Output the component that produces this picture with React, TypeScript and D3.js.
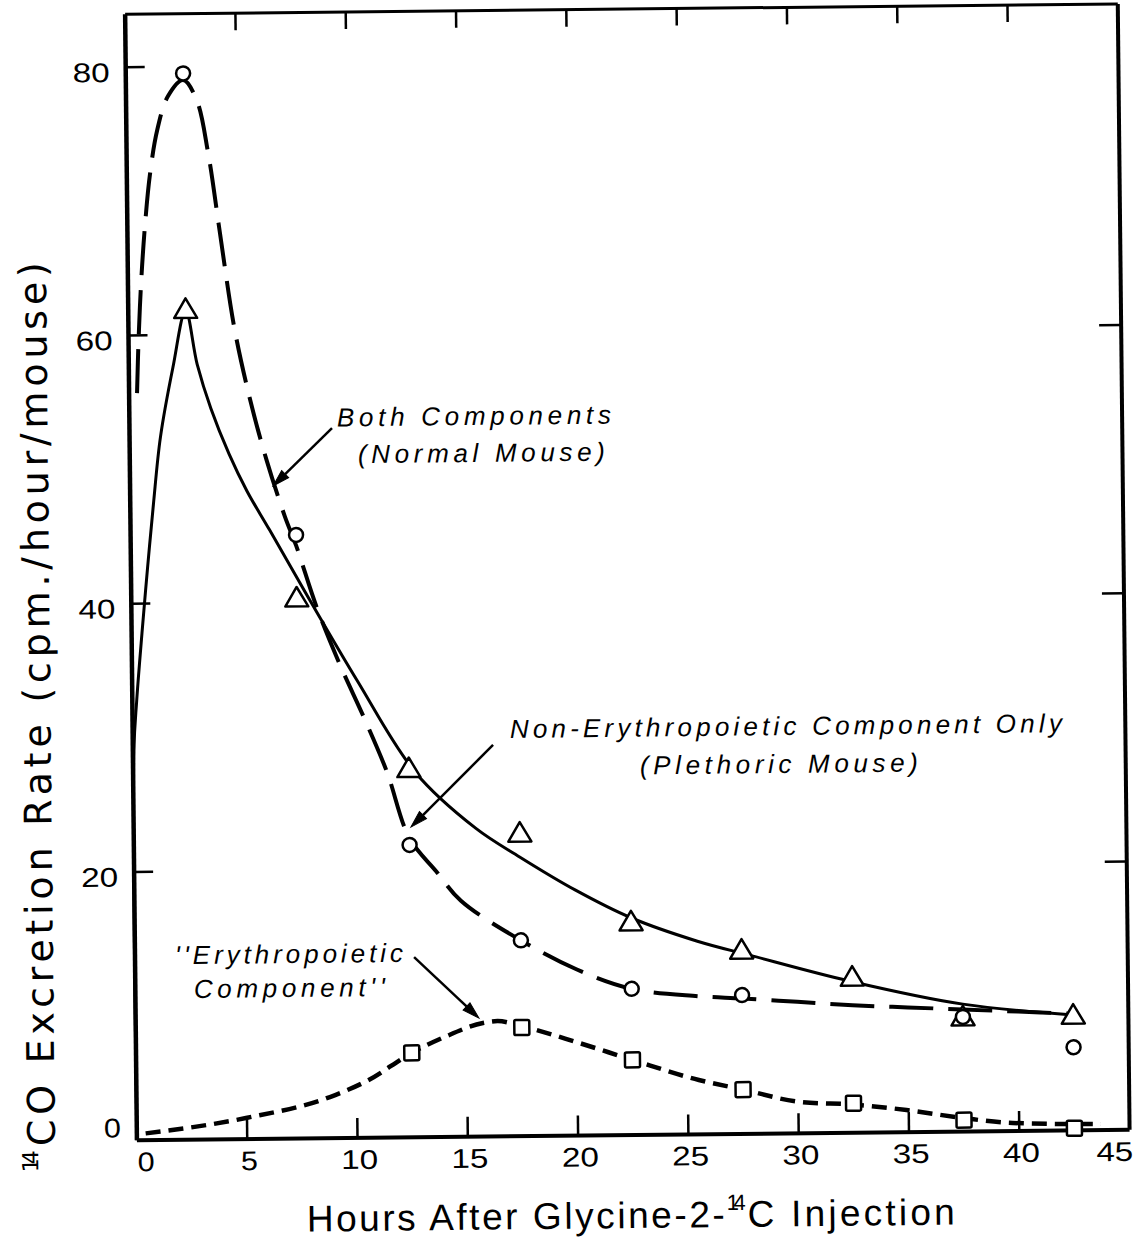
import React from 'react';
import * as d3 from 'd3';

// ---- Axis ticks ----
const xTickValues = [0, 5, 10, 15, 20, 25, 30, 35, 40, 45];
const xTickMarks = [5, 10, 15, 20, 25, 30, 35, 40];
const yTickValues = [0, 20, 40, 60, 80];
const yTickMarksLeft = [20, 40, 60, 80];
const yTickMarksRight = [20, 40, 60];

// ---- Observed points ----
// Both components (normal mouse) - circles
const normalHours = [2.6, 7.5, 12.5, 17.5, 22.5, 27.5, 37.5, 42.5];
const normalRate = [79.5, 45.0, 21.8, 14.6, 10.9, 10.35, 8.55, 6.2];
// Non-erythropoietic only (plethoric mouse) - triangles
const plethoricHours = [2.6, 7.5, 12.5, 17.5, 22.5, 27.5, 32.5, 37.5, 42.5];
const plethoricRate = [61.9, 40.3, 27.5, 22.6, 15.9, 13.7, 11.6, 8.55, 8.6];
// "Erythropoietic component" - squares
const erythroHours = [12.5, 17.5, 22.5, 27.5, 32.5, 37.5, 42.5];
const erythroRate = [6.3, 8.1, 5.6, 3.3, 2.2, 0.85, 0.16];

// ---- Hand-drawn fitted curves ----
const normalFitHours = [0.36, 0.45, 0.6, 0.8, 1.05, 1.4, 1.9, 2.6, 3.2, 3.7, 4.2, 4.8, 5.5, 6.2, 7.0, 7.5, 8.4, 9.4, 10.5, 11.5, 12.5, 13.7, 14.8, 17.5, 20, 22.5, 25.5, 27.5, 30, 32.5, 35, 37.5, 40, 42.5];
const normalFitRate = [55.7, 59.5, 64.0, 68.2, 72.0, 75.3, 77.8, 79.0, 77.5, 73.5, 67.5, 60.5, 55.0, 50.6, 46.4, 44.2, 39.6, 35.4, 31.3, 27.3, 22.3, 19.8, 17.6, 14.6, 12.4, 10.9, 10.3, 10.1, 9.8, 9.5, 9.3, 9.1, 8.9, 8.7];

const plethoricFitHours = [0, 0.05, 0.2, 0.47, 0.75, 1.05, 1.4, 2.0, 2.6, 3.1, 3.7, 4.5, 5.3, 6.3, 8.0, 10.2, 12.8, 15.5, 17.5, 20, 22.5, 25.5, 27.9, 32.4, 37.5, 42.5];
const plethoricFitRate = [0, 29.1, 32.8, 37.8, 42.6, 47.4, 52.4, 57.6, 61.8, 57.8, 54.5, 51.1, 48.3, 45.4, 40.4, 34.1, 27.2, 23.0, 20.8, 18.3, 16.2, 14.4, 13.3, 11.3, 9.5, 8.6];

const erythroFitHours = [0.4, 4.95, 8.77, 10.5, 12.5, 14.0, 15.74, 16.4, 17.5, 20.1, 22.5, 25.5, 27.5, 30.1, 32.5, 34.9, 37.5, 39.7, 43.7];
const erythroFitRate = [0.5, 1.57, 3.07, 4.28, 6.3, 7.46, 8.47, 8.6, 8.2, 6.9, 5.6, 4.05, 3.3, 2.33, 2.1, 1.65, 1.0, 0.6, 0.45];

// ---- Annotations (data coordinates) ----
const annotationLines = [
  { text: 'Both Components', hx: 15.62, hy: 53.06, width: 274 },
  { text: '(Normal Mouse)', hx: 15.94, hy: 50.3, width: 247 },
  { text: 'Non-Erythropoietic Component Only', hx: 29.61, hy: 29.7, width: 552 },
  { text: '(Plethoric  Mouse)', hx: 29.28, hy: 26.88, width: 278 },
  { text: "''Erythropoietic", hx: 6.98, hy: 13.09, width: 228 },
  { text: "Component''", hx: 6.98, hy: 10.56, width: 191 },
];
const arrowTailHours = [9.18, 16.33, 12.65];
const arrowTailRate = [52.94, 29.19, 13.44];
const arrowHeadHours = [6.48, 12.57, 15.56];
const arrowHeadRate = [48.67, 23.13, 8.84];

const FONT = "'Liberation Sans', Arial, Helvetica, sans-serif";
const WIDE_FONT = "'DejaVu Sans', Verdana, sans-serif";

export default function App() {
  const W = 1148;
  const H = 1242;
  const x = d3.scaleLinear().domain([0, 45]).range([131, 1123.7]);
  const y = d3.scaleLinear().domain([0, 80]).range([1135, 62]);
  const yTop = 83.95;

  const zip = (a: number[], b: number[]): [number, number][] => a.map((v, i) => [v, b[i]]);
  const smoothLine = d3
    .line<[number, number]>()
    .x((d) => x(d[0]))
    .y((d) => y(d[1]))
    .curve(d3.curveCatmullRom.alpha(0.5));
  const monoLine = d3
    .line<[number, number]>()
    .x((d) => x(d[0]))
    .y((d) => y(d[1]))
    .curve(d3.curveMonotoneX);

  const left = x(0);
  const right = x(45);
  const top = y(yTop);
  const bottom = y(0);

  const tri = 'M0,-11 L11.5,8.5 L-11.5,8.5 Z';

  const arrows = arrowTailHours.map((_, i) => {
    const tx = x(arrowTailHours[i]);
    const ty = y(arrowTailRate[i]);
    const hx = x(arrowHeadHours[i]);
    const hy = y(arrowHeadRate[i]);
    const len = Math.hypot(hx - tx, hy - ty);
    const ux = (hx - tx) / len;
    const uy = (hy - ty) / len;
    const bx = hx - ux * 17;
    const by = hy - uy * 17;
    const nx = -uy;
    const ny = ux;
    return {
      tx, ty, bx, by,
      head: `M${hx},${hy} L${bx + nx * 5},${by + ny * 5} L${bx - nx * 5},${by - ny * 5} Z`,
    };
  });

  const xLabelOffset = (v: number) => (v === 0 ? 9 : v === 45 ? -15 : 2);

  return (
    <svg
      width={W}
      height={H}
      style={{ position: 'absolute', left: 0, top: 0, background: '#fff' }}
    >
      <rect x={0} y={0} width={W} height={H} fill="#fff" />
      <g transform="rotate(-0.6 632 572)">
        {/* Frame */}
        <line x1={left} y1={top} x2={left} y2={bottom} stroke="#000" strokeWidth={4.5} />
        <line x1={left} y1={bottom} x2={right} y2={bottom} stroke="#000" strokeWidth={4} />
        <line x1={left} y1={top} x2={right} y2={top} stroke="#000" strokeWidth={3} />
        <line x1={right} y1={top} x2={right} y2={bottom} stroke="#000" strokeWidth={4} />

        {/* Tick marks */}
        {xTickMarks.map((v) => (
          <g key={'xt' + v}>
            <line x1={x(v)} x2={x(v)} y1={bottom} y2={bottom - 20} stroke="#000" strokeWidth={2.5} />
            <line x1={x(v)} x2={x(v)} y1={top} y2={top + 17} stroke="#000" strokeWidth={2.5} />
          </g>
        ))}
        {yTickMarksLeft.map((v) => (
          <line key={'yl' + v} x1={left} x2={left + 19} y1={y(v)} y2={y(v)} stroke="#000" strokeWidth={2.5} />
        ))}
        {yTickMarksRight.map((v) => (
          <line key={'yr' + v} x1={right} x2={right - 22} y1={y(v)} y2={y(v)} stroke="#000" strokeWidth={2.5} />
        ))}

        {/* Tick labels */}
        {xTickValues.map((v) => (
          <text
            key={'xl' + v}
            x={x(v) + xLabelOffset(v)}
            y={bottom + 31}
            textAnchor="middle"
            fontFamily={FONT}
            fontSize={27}
            textLength={String(v).length > 1 ? 37 : 17}
            lengthAdjust="spacingAndGlyphs"
          >
            {v}
          </text>
        ))}
        {yTickValues.map((v) => (
          <text
            key={'yl' + v}
            x={115}
            y={v === 0 ? y(v) - 3 : y(v) + 14.5}
            textAnchor="end"
            fontFamily={FONT}
            fontSize={27}
            textLength={String(v).length > 1 ? 37 : 17}
            lengthAdjust="spacingAndGlyphs"
          >
            {v}
          </text>
        ))}

        {/* Curves */}
        <path
          d={smoothLine(zip(plethoricFitHours, plethoricFitRate)) || ''}
          fill="none"
          stroke="#000"
          strokeWidth={3}
        />
        <path
          d={smoothLine(zip(normalFitHours, normalFitRate)) || ''}
          fill="none"
          stroke="#000"
          strokeWidth={4}
          strokeDasharray="44 15"
        />
        <path
          d={monoLine(zip(erythroFitHours, erythroFitRate)) || ''}
          fill="none"
          stroke="#000"
          strokeWidth={4.5}
          strokeDasharray="15 8"
        />

        {/* Markers */}
        {plethoricHours.map((h, i) => (
          <path
            key={'tri' + i}
            d={tri}
            transform={`translate(${x(h)},${y(plethoricRate[i])})`}
            fill="#fff"
            stroke="#000"
            strokeWidth={2.5}
            strokeLinejoin="round"
          />
        ))}
        {normalHours.map((h, i) => (
          <circle key={'c' + i} cx={x(h)} cy={y(normalRate[i])} r={7} fill="#fff" stroke="#000" strokeWidth={2.5} />
        ))}
        {erythroHours.map((h, i) => (
          <rect
            key={'s' + i}
            x={x(h) - 7.5}
            y={y(erythroRate[i]) - 7.5}
            width={15}
            height={15}
            rx={1.5}
            fill="#fff"
            stroke="#000"
            strokeWidth={2.5}
          />
        ))}

        {/* Annotations */}
        {annotationLines.map((a, i) => (
          <text
            key={'an' + i}
            x={x(a.hx)}
            y={y(a.hy)}
            textAnchor="middle"
            fontFamily={FONT}
            fontStyle="italic"
            fontSize={26}
            textLength={a.width}
            lengthAdjust="spacing"
          >
            {a.text}
          </text>
        ))}
        {arrows.map((a, i) => (
          <g key={'ar' + i}>
            <line x1={a.tx} y1={a.ty} x2={a.bx} y2={a.by} stroke="#000" strokeWidth={2.5} />
            <path d={a.head} fill="#000" stroke="#000" strokeWidth={1} />
          </g>
        ))}

        {/* X axis title */}
        <text x={300} y={1228} fontFamily={FONT} fontSize={37} textLength={418} lengthAdjust="spacing">
          Hours After Glycine-2-
        </text>
        <text x={720} y={1211} fontFamily={FONT} fontSize={22} textLength={19} lengthAdjust="spacing">
          14
        </text>
        <text x={741} y={1228} fontFamily={FONT} fontSize={37} textLength={207} lengthAdjust="spacing">
          C Injection
        </text>

        {/* Y axis title */}
        <g transform="translate(49,0) rotate(-90)">
          <text x={-1166} y={-17} fontFamily={WIDE_FONT} fontSize={22} textLength={22} lengthAdjust="spacing">
            14
          </text>
          <text x={-1140} y={0} fontFamily={WIDE_FONT} fontSize={38} textLength={884} lengthAdjust="spacing">
            CO Excretion Rate (cpm./hour/mouse)
          </text>
        </g>
      </g>
    </svg>
  );
}
